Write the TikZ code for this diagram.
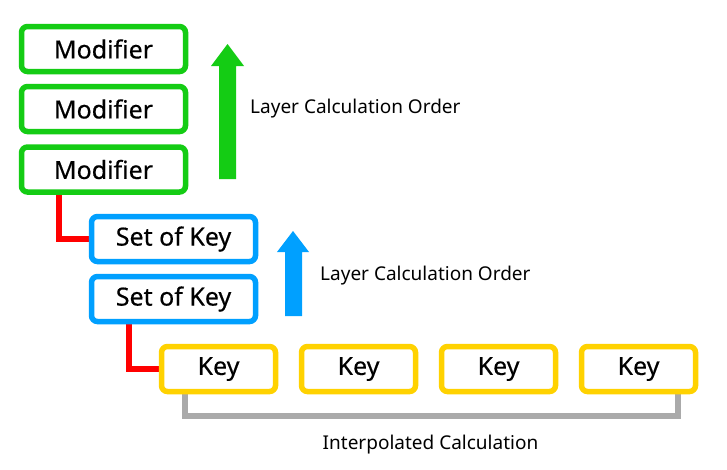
\documentclass[tikz,border=0pt]{standalone}
\usepackage{fontspec}
\setmainfont{Noto Sans}
\newfontfamily\boxfont[FakeBold=0.4]{Noto Sans}
\definecolor{cgreen}{HTML}{14CC14}
\definecolor{cblue}{HTML}{00A0FF}
\definecolor{cyellow}{HTML}{FFD200}
\definecolor{cred}{HTML}{FF0000}
\definecolor{cgray}{HTML}{AAAAAA}
\pgfdeclarelayer{bg}
\pgfdeclarelayer{conn}
\pgfsetlayers{bg,conn,main}
\begin{document}
\begin{tikzpicture}[x=1pt,y=-1pt,
  box/.style={draw,line width=5.5pt,rounded corners=6pt,fill=white,inner sep=0pt,
    font=\boxfont\fontsize{25}{28}\selectfont},
  modbox/.style={box,draw=cgreen,minimum width=164pt,minimum height=45pt},
  setbox/.style={box,draw=cblue,minimum width=164pt,minimum height=45pt},
  keybox/.style={box,draw=cyellow,minimum width=114pt,minimum height=45pt},
  link/.style={draw=cred,line width=6pt},
  bracket/.style={draw=cgray,line width=5.5pt},
  lbl/.style={font=\fontsize{19}{22}\selectfont,inner sep=0pt}]
\useasboundingbox (0,0) rectangle (727,469);
\begin{pgfonlayer}{bg}
\fill[white] (0,0) rectangle (727,469);
\end{pgfonlayer}

\node[modbox] (m1) at (103.5,49) {Modifier};
\node[modbox] (m2) at (103.5,109) {Modifier};
\node[modbox] (m3) at (103.5,169.5) {Modifier};

\node[setbox] (s1) at (173.5,239) {Set of Key};
\node[setbox] (s2) at (173.5,299) {Set of Key};

\node[keybox] (k1) at (218.5,369) {Key};
\node[keybox] (k2) at (358.5,369) {Key};
\node[keybox] (k3) at (498.5,369) {Key};
\node[keybox] (k4) at (638.5,369) {Key};

% connectors, below the boxes
\begin{pgfonlayer}{conn}
\draw[link] ([xshift=-44.5pt]m3.south) |- (s1.west);
\draw[link] ([xshift=-44.5pt]s2.south) |- (k1.west);
\draw[bracket] ([xshift=-33.5pt]k1.south) |- ([yshift=-21.5pt]k2.south) -| ([xshift=39.5pt]k4.south);
\end{pgfonlayer}

% arrows
\fill[cgreen] (219,179) -- (219,66) -- (211,66) -- (227.5,44) -- (244,66) -- (236,66) -- (236,179) -- cycle;
\fill[cblue] (285,316) -- (285,252) -- (277,252) -- (293,231) -- (309,252) -- (302,252) -- (302,316) -- cycle;

\node[lbl,anchor=west] (t1) at (250,109) {Layer Calculation Order};
\node[lbl,anchor=west] (t2) at (320,276) {Layer Calculation Order};
\node[lbl] (t3) at (430.5,445) {Interpolated Calculation};
\end{tikzpicture}
\end{document}
